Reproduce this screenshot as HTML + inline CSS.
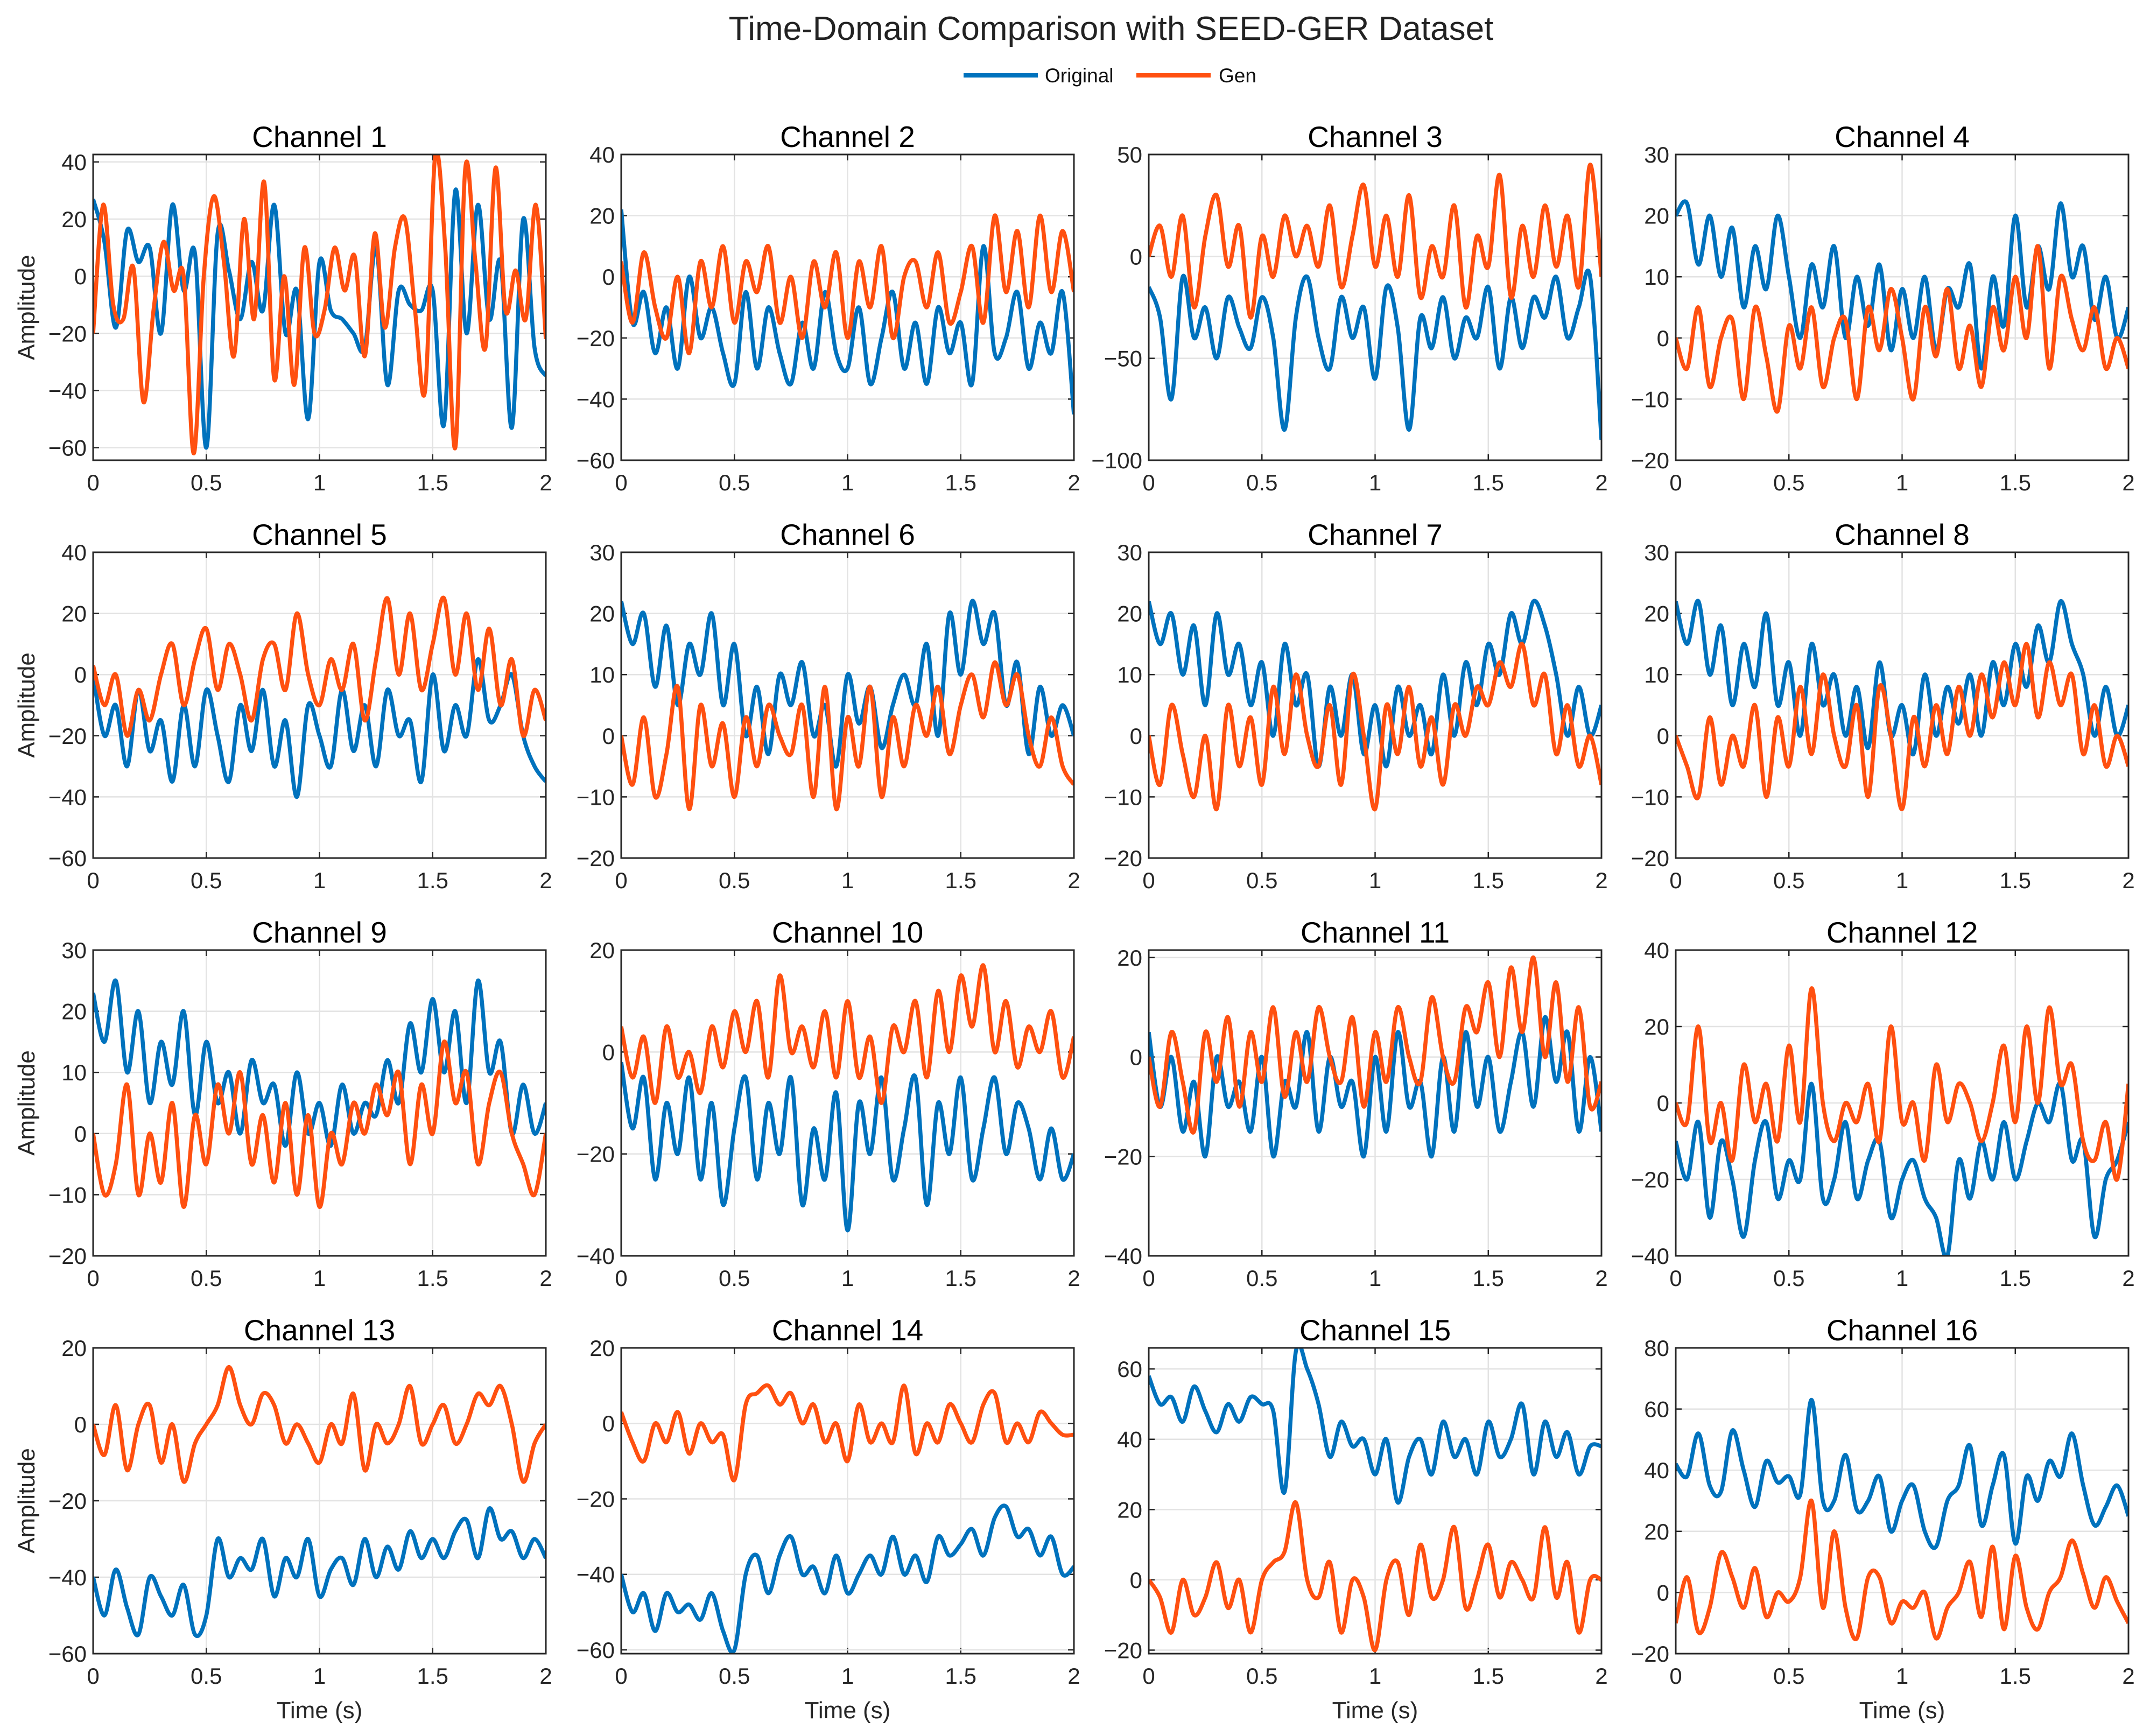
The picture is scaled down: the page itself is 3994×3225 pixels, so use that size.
<!DOCTYPE html>
<html><head><meta charset="utf-8"><style>
html,body{margin:0;padding:0;background:#fff;}
svg{display:block;font-family:"Liberation Sans",Arial,sans-serif;}
</style></head><body>
<svg id="fig" width="3994" height="3225" viewBox="0 0 3994 3225" xmlns="http://www.w3.org/2000/svg">
<rect width="3994" height="3225" fill="#fff"/>
<text x="2064" y="74" font-size="62" text-anchor="middle" fill="#222">Time-Domain Comparison with SEED-GER Dataset</text>
<g>
<line x1="1790" y1="140" x2="1928" y2="140" stroke="#0072BD" stroke-width="8"/>
<text x="1941" y="153" font-size="37" fill="#111">Original</text>
<line x1="2111" y1="140" x2="2249" y2="140" stroke="#FF5010" stroke-width="8"/>
<text x="2264" y="153" font-size="37" fill="#111">Gen</text>
</g>
</svg>
<script>
const yRanges=[[-64.4,42.6],[-60,40],[-100,50],[-20,30],[-60,40],[-20,30],[-20,30],[-20,30],[-20,30],[-40,20],[-40,21.5],[-40,40],[-60,20],[-61,20],[-21,66],[-20,80]];
const yTicks=[[-60,-40,-20,0,20,40],[-60,-40,-20,0,20,40],[-100,-50,0,50],[-20,-10,0,10,20,30],[-60,-40,-20,0,20,40],[-20,-10,0,10,20,30],[-20,-10,0,10,20,30],[-20,-10,0,10,20,30],[-20,-10,0,10,20,30],[-40,-20,0,20],[-40,-20,0,20],[-40,-20,0,20,40],[-60,-40,-20,0,20],[-60,-40,-20,0,20],[-20,0,20,40,60],[-20,0,20,40,60,80]];
const xTicks=[0,0.5,1,1.5,2];
const xTickLabels=["0","0.5","1","1.5","2"];
const orig=[
[27,12,-18,16,5,10,-20,25,-5,8,-60,15,2,-15,5,-12,25,-20,-5,-50,5,-12,-15,-20,-25,10,-38,-5,-10,-12,-5,-52,30,-20,25,-15,5,-53,20,-25,-35],
[22,-15,-5,-25,-10,-30,0,-20,-10,-25,-35,-5,-30,-10,-25,-35,-15,-30,-5,-25,-30,-10,-35,-20,-5,-30,-15,-35,-10,-25,-15,-35,10,-25,-20,-5,-30,-15,-25,-5,-45],
[-15,-30,-70,-10,-40,-25,-50,-20,-35,-45,-20,-40,-85,-30,-10,-40,-55,-20,-40,-25,-60,-15,-35,-85,-30,-45,-20,-50,-30,-40,-15,-55,-20,-45,-20,-30,-10,-40,-25,-10,-90],
[20,22,12,20,10,18,5,15,8,20,10,0,12,5,15,0,10,2,12,-2,8,0,10,-2,8,5,12,-5,10,2,20,5,15,8,22,10,15,3,10,0,5],
[0,-20,-10,-30,-5,-25,-15,-35,-10,-30,-5,-20,-35,-10,-25,-5,-30,-15,-40,-10,-20,-30,-5,-25,-10,-30,-5,-20,-15,-35,0,-25,-10,-20,5,-15,-10,0,-20,-30,-35],
[22,15,20,8,18,5,15,10,20,5,15,0,8,-3,10,5,12,0,5,-5,10,2,8,-2,5,10,5,15,0,20,10,22,15,20,5,12,-3,8,0,5,0],
[22,15,20,10,18,5,20,10,15,5,12,0,15,5,10,-5,8,0,10,-3,5,-5,8,0,5,-3,10,0,12,5,15,10,20,15,22,18,10,0,8,0,5],
[22,15,22,10,18,5,15,8,20,5,12,0,15,5,10,0,8,-2,12,0,5,-3,10,0,8,2,10,0,12,5,15,8,18,12,22,15,10,0,8,0,5],
[23,15,25,10,20,5,15,8,20,3,15,5,10,0,12,5,8,-2,10,0,5,-2,8,0,5,3,12,5,18,10,22,10,20,5,25,10,15,0,8,0,5],
[-2,-15,-5,-25,-10,-20,-5,-25,-10,-30,-15,-5,-25,-10,-20,-5,-30,-15,-25,-8,-35,-10,-20,-5,-25,-15,-5,-30,-10,-20,-5,-25,-15,-5,-20,-10,-15,-25,-15,-25,-20],
[5,-10,0,-15,-5,-20,0,-10,-5,-15,0,-20,-5,-10,5,-15,0,-10,-5,-20,0,-15,5,-10,-5,-20,0,-15,5,-10,0,-15,-5,5,-10,8,-5,5,-15,0,-15],
[-10,-20,-5,-30,-10,-20,-35,-15,-5,-25,-15,-20,5,-25,-20,-5,-25,-15,-10,-30,-20,-15,-25,-30,-40,-15,-25,-10,-20,-5,-20,-10,0,-5,5,-15,-10,-35,-20,-15,-5],
[-40,-50,-38,-48,-55,-40,-45,-50,-42,-55,-50,-30,-40,-35,-38,-30,-45,-35,-40,-30,-45,-38,-35,-42,-30,-40,-32,-38,-28,-35,-30,-35,-28,-25,-35,-22,-30,-28,-35,-30,-35],
[-40,-50,-45,-55,-45,-50,-48,-52,-45,-55,-60,-40,-35,-45,-35,-30,-40,-38,-45,-35,-45,-40,-35,-40,-30,-40,-35,-42,-30,-35,-32,-28,-35,-25,-22,-30,-28,-35,-30,-40,-38],
[58,50,52,45,55,48,42,50,45,52,50,48,25,65,60,50,35,45,38,40,30,40,22,35,40,30,45,35,40,30,45,35,40,50,30,45,35,42,30,38,38],
[42,38,52,35,33,53,40,28,43,36,38,32,63,30,30,45,27,30,38,20,30,35,20,15,30,35,48,22,35,45,16,38,30,43,38,52,35,22,28,35,25]
];
const gen=[
[-20,25,-10,-15,3,-44,-12,12,-5,0,-62,0,28,5,-28,20,-15,33,-36,0,-38,10,-20,-12,10,-5,7,-28,15,-18,10,20,-12,-40,42,10,-60,38,5,-25,38,-12,2,-15,25,-22],
[5,-15,8,-10,-20,0,-25,5,-10,10,-15,5,-5,10,-15,0,-20,5,-10,8,-20,5,-10,10,-20,0,5,-10,8,-15,-5,10,-15,20,-5,15,-10,20,-5,15,-5],
[0,15,-10,20,-25,10,30,-5,15,-30,10,-10,20,0,15,-5,25,-15,10,35,-5,20,-10,30,-20,5,-10,25,-25,10,-5,40,-20,15,-10,25,-5,20,-15,45,-10],
[0,-5,5,-8,0,3,-10,5,-3,-12,2,-5,5,-8,0,3,-10,5,-2,8,0,-10,5,-3,8,-5,2,-8,5,-2,10,0,15,-5,10,3,-2,5,-5,0,-5],
[3,-10,0,-20,-5,-15,0,10,-10,5,15,-5,10,0,-15,5,10,-5,20,0,-10,5,-5,10,-15,5,25,0,20,-5,10,25,0,20,-5,15,-10,5,-20,-5,-15],
[0,-8,3,-10,-3,8,-12,5,-5,2,-10,3,-5,5,0,-3,5,-10,8,-12,3,-5,8,-10,3,-5,5,0,8,-3,5,10,3,12,5,10,0,-5,3,-5,-8],
[0,-8,5,-3,-10,0,-12,5,-5,3,-8,8,-3,10,0,-5,5,-8,10,0,-12,5,-3,8,-5,3,-8,5,0,8,5,12,8,15,5,10,-3,5,-5,0,-8],
[0,-5,-10,3,-8,0,-5,5,-10,3,-5,8,-3,10,0,-5,5,-10,8,0,-12,3,-5,5,-3,8,0,10,3,12,5,15,3,12,5,10,-3,5,-5,0,-5],
[0,-10,-5,8,-10,0,-8,5,-12,3,-5,8,0,10,-5,3,-8,5,-10,3,-12,0,-5,5,0,8,3,10,-5,8,0,15,5,10,-5,5,10,0,-5,-10,0],
[5,-5,3,-10,5,-5,0,-8,5,-3,8,0,10,-5,15,0,5,-3,8,-5,10,-5,3,-10,5,0,10,-5,12,0,15,5,17,0,10,-3,5,0,8,-5,3],
[0,-10,5,-5,-15,5,-5,8,-10,5,-5,10,-8,5,-5,10,0,-5,8,-10,5,-5,10,0,-5,12,0,-5,10,5,15,0,18,5,20,0,15,-5,10,-10,-5],
[0,-5,20,-10,0,-15,10,-5,5,-10,15,-5,30,0,-10,0,-5,5,-10,20,-5,0,-15,10,-5,5,0,-10,0,15,-5,20,0,25,5,10,-10,-15,-5,-20,5],
[0,-8,5,-12,0,5,-10,0,-15,-5,0,5,15,5,0,8,5,-5,0,-5,-10,0,-5,8,-12,0,-5,0,10,-5,0,5,-5,0,8,5,10,0,-15,-5,0],
[3,-5,-10,0,-5,3,-8,0,-5,-3,-15,5,8,10,5,8,0,5,-5,0,-10,5,-5,0,-5,10,-8,0,-5,5,0,-5,5,8,-5,0,-5,3,0,-3,-3],
[0,-5,-15,0,-10,-5,5,-8,0,-15,0,5,8,22,0,-5,5,-15,0,-5,-20,0,5,-10,10,-5,0,15,-8,0,10,-5,5,0,-5,15,-5,5,-15,0,0],
[-10,5,-13,-5,13,5,-5,8,-8,0,-3,5,30,-5,20,-5,-15,5,5,-10,-3,-5,0,-15,-5,0,10,-8,15,-12,12,-5,-12,0,5,17,6,-5,5,-3,-10]
];
const NS="http://www.w3.org/2000/svg";
const svg=document.getElementById('fig');
const colX=[173,1154,2134,3113], rowY=[287,1026,1765,2504], PW=841, PH=568;
function mk(tag,attrs,parent){const e=document.createElementNS(NS,tag);for(const k in attrs)e.setAttribute(k,attrs[k]);parent.appendChild(e);return e;}
function fmt(v){return v<0?"\u2212"+Math.abs(v):String(v);}
function smoothPath(pts){let d="M"+pts[0][0].toFixed(1)+","+pts[0][1].toFixed(1);
for(let i=0;i<pts.length-1;i++){const p0=pts[Math.max(0,i-1)],p1=pts[i],p2=pts[i+1],p3=pts[Math.min(pts.length-1,i+2)];
const c1=[p1[0]+(p2[0]-p0[0])/6,p1[1]+(p2[1]-p0[1])/6],c2=[p2[0]-(p3[0]-p1[0])/6,p2[1]-(p3[1]-p1[1])/6];
d+=" C"+c1[0].toFixed(1)+","+c1[1].toFixed(1)+" "+c2[0].toFixed(1)+","+c2[1].toFixed(1)+" "+p2[0].toFixed(1)+","+p2[1].toFixed(1);}
return d;}
for(let c=0;c<16;c++){
  const L=colX[c%4],T=rowY[Math.floor(c/4)],R=L+PW,B=T+PH;
  const [y0,y1]=yRanges[c];
  const sx=v=>L+v/2*PW, sy=v=>B-(v-y0)/(y1-y0)*PH;
  const g=mk('g',{},svg);
  
  
  const cp=mk('clipPath',{id:'cp'+c},g);mk('rect',{x:L,y:T,width:PW,height:PH},cp);
  xTicks.forEach((t,i)=>{
    const ln=mk('line',{x1:sx(t),x2:sx(t),y1:T,y2:B,stroke:'#e3e3e3','stroke-width':2.5},g);
    
    
    mk('line',{x1:sx(t),x2:sx(t),y1:B,y2:B-11,stroke:'#262626','stroke-width':2.5},g);
    mk('line',{x1:sx(t),x2:sx(t),y1:T,y2:T+11,stroke:'#262626','stroke-width':2.5},g);
    const tx=mk('text',{x:sx(t),y:B+56,'font-size':42,'text-anchor':'middle',fill:'#262626'},g);
    tx.textContent=xTickLabels[i];
    
    
  });
  yTicks[c].forEach(t=>{
    const ln=mk('line',{x1:L,x2:R,y1:sy(t),y2:sy(t),stroke:'#e3e3e3','stroke-width':2.5},g);
    
    
    mk('line',{x1:L,x2:L+11,y1:sy(t),y2:sy(t),stroke:'#262626','stroke-width':2.5},g);
    mk('line',{x1:R,x2:R-11,y1:sy(t),y2:sy(t),stroke:'#262626','stroke-width':2.5},g);
    const tx=mk('text',{x:L-12,y:sy(t)+15,'font-size':42,'text-anchor':'end',fill:'#262626'},g);
    tx.textContent=fmt(t);
    
    
  });
  [[orig[c],'#0072BD','original'],[gen[c],'#FF5010','gen']].forEach(([arr,col,nm])=>{
    const pts=arr.map((v,i)=>[sx(2*i/(arr.length-1)),sy(v)]);
    const p=mk('path',{d:smoothPath(pts),fill:'none',stroke:col,'stroke-width':7.5,'stroke-linejoin':'round','clip-path':'url(#cp'+c+')'},g);
    
    
  });
  const bx=mk('rect',{x:L,y:T,width:PW,height:PH,fill:'none',stroke:'#262626','stroke-width':3},g);
  
  
  const ti=mk('text',{x:L+PW/2,y:T-14,'font-size':55,'text-anchor':'middle',fill:'#000'},g);
  ti.textContent='Channel '+(c+1);
  
  
  if(c%4===0){
    const yl=mk('text',{x:0,y:0,'font-size':44,'text-anchor':'middle',fill:'#262626',transform:'translate(64,'+(T+PH/2)+') rotate(-90)'},g);
    yl.textContent='Amplitude';
    
    
  }
  if(c>=12){
    const xl=mk('text',{x:L+PW/2,y:B+120,'font-size':44,'text-anchor':'middle',fill:'#262626'},g);
    xl.textContent='Time (s)';
    
    
  }
}
</script>
</body></html>
